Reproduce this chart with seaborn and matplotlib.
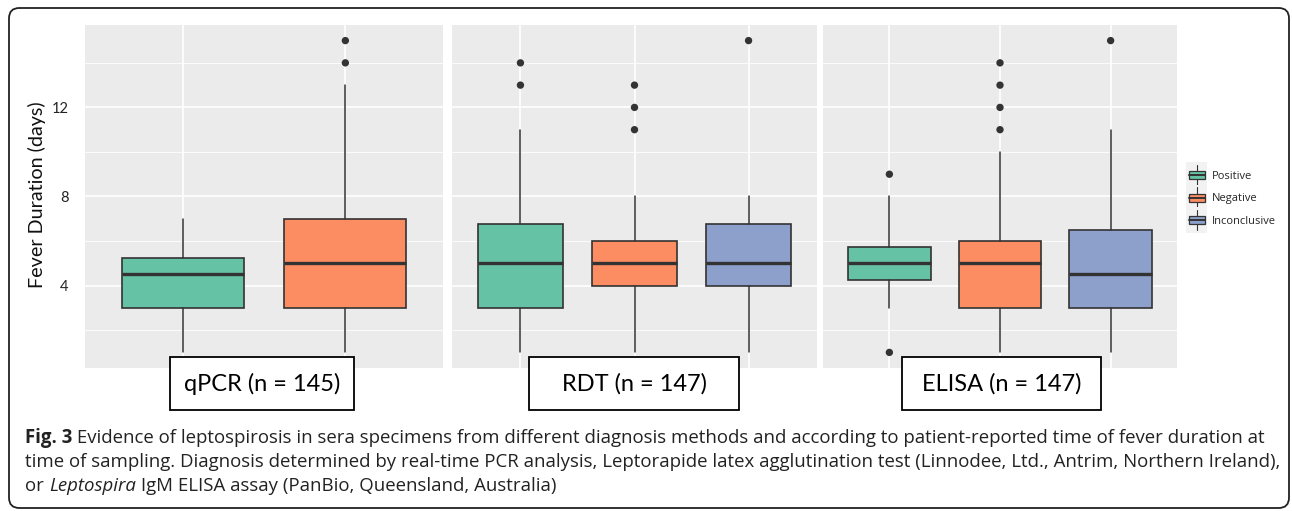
import numpy as np
import pandas as pd
import matplotlib
matplotlib.use("Agg")
import matplotlib.pyplot as plt
import seaborn as sns
from matplotlib.patches import Rectangle, FancyBboxPatch
from matplotlib.lines import Line2D
from matplotlib.legend_handler import HandlerBase

# ---------------- data ----------------
methods = ["qPCR", "RDT", "ELISA"]
method_n = [145, 147, 147]
results = ["Positive", "Negative", "Inconclusive"]

qpcr_groups = ["Positive", "Negative"]
qpcr_whislo = [1, 1]
qpcr_q1 = [3, 3]
qpcr_med = [4.5, 5]
qpcr_q3 = [5.25, 7]
qpcr_whishi = [7, 13]
qpcr_out = [[], [14, 15]]

rdt_groups = ["Positive", "Negative", "Inconclusive"]
rdt_whislo = [1, 1, 1]
rdt_q1 = [3, 4, 4]
rdt_med = [5, 5, 5]
rdt_q3 = [6.75, 6, 6.75]
rdt_whishi = [11, 8, 8]
rdt_out = [[13, 14], [11, 12, 13], [15]]

elisa_groups = ["Positive", "Negative", "Inconclusive"]
elisa_whislo = [3, 1, 1]
elisa_q1 = [4.25, 3, 3]
elisa_med = [5, 5, 4.5]
elisa_q3 = [5.75, 6, 6.5]
elisa_whishi = [8, 10, 11]
elisa_out = [[1, 9], [11, 12, 13, 14], [15]]

y_major = [4, 8, 12]
y_minor = [2, 6, 10, 14]
y_label = "Fever Duration (days)"

caption_bold = "Fig. 3"
caption_l1 = " Evidence of leptospirosis in sera specimens from different diagnosis methods and according to patient-reported time of fever duration at"
caption_l2 = "time of sampling. Diagnosis determined by real-time PCR analysis, Leptorapide latex agglutination test (Linnodee, Ltd., Antrim, Northern Ireland),"
caption_l3a = "or "
caption_l3b = "Leptospira"
caption_l3c = " IgM ELISA assay (PanBio, Queensland, Australia)"

# ---------------- style ----------------
sns.set_theme(style="darkgrid")
plt.rcParams["font.family"] = ["Lato", "DejaVu Sans"]
palette = dict(zip(results, sns.color_palette("Set2", 3)))
EDGE = "#333333"
BG = "#EBEBEB"

W, H = 1292, 511
fig = plt.figure(figsize=(W / 100, H / 100), dpi=100)
fig.patch.set_facecolor("white")

def rect(x0, y0, x1, y1):
    return [x0 / W, 1 - y1 / H, (x1 - x0) / W, (y1 - y0) / H]

panels = [
    (85, 443, qpcr_groups, qpcr_whislo, qpcr_q1, qpcr_med, qpcr_q3, qpcr_whishi, qpcr_out),
    (452, 817, rdt_groups, rdt_whislo, rdt_q1, rdt_med, rdt_q3, rdt_whishi, rdt_out),
    (823, 1177, elisa_groups, elisa_whislo, elisa_q1, elisa_med, elisa_q3, elisa_whishi, elisa_out),
]
label_boxes = [(170, 354), (529, 739), (902, 1101)]
PT, PB = 25, 368

axes = []
for i, (x0, x1, groups, wlo, q1, med, q3, whi, outs) in enumerate(panels):
    ax = fig.add_axes(rect(x0, PT, x1, PB))
    axes.append(ax)
    ax.set_facecolor(BG)
    k = len(groups)
    pos = list(range(k))
    stats = []
    for j in range(k):
        stats.append(dict(med=med[j], q1=q1[j], q3=q3[j], whislo=wlo[j],
                          whishi=whi[j], fliers=[], label=groups[j]))
    bp = ax.bxp(stats, positions=pos, widths=0.75, patch_artist=True,
                showfliers=False, showcaps=False,
                boxprops=dict(edgecolor=EDGE, linewidth=1.2),
                medianprops=dict(color=EDGE, linewidth=2.4, solid_capstyle="butt"),
                whiskerprops=dict(color=EDGE, linewidth=1.1), zorder=3)
    for patch, g in zip(bp["boxes"], groups):
        patch.set_facecolor(palette[g])
    # outliers
    ox, oy = [], []
    for j, o in enumerate(outs):
        for v in o:
            ox.append(j)
            oy.append(v)
    if ox:
        df = pd.DataFrame({"x": ox, "y": oy})
        sns.scatterplot(data=df, x="x", y="y", ax=ax, color=EDGE, s=28,
                        edgecolor="none", zorder=4, legend=False)
    ax.set_xlim(-0.6, k - 0.4)
    ax.set_ylim(0.3, 15.7)
    ax.set_xticks(pos)
    ax.set_xticklabels([])
    ax.set_yticks(y_major)
    ax.set_yticks(y_minor, minor=True)
    ax.grid(True, which="major", color="white", linewidth=1.2, zorder=0)
    ax.grid(True, which="minor", axis="y", color="white", linewidth=0.6, zorder=0)
    ax.set_axisbelow(True)
    for s in ax.spines.values():
        s.set_visible(False)
    ax.tick_params(axis="both", which="both", length=0)
    ax.set_xlabel("")
    ax.set_ylabel("")
    if i == 0:
        ax.set_yticklabels([str(v) for v in y_major], fontsize=10.5, color="#222222")
        ax.tick_params(axis="y", pad=12)
    else:
        ax.set_yticklabels([])

fig.text(37 / W, 1 - 195 / H, y_label, rotation=90, ha="center", va="center",
         fontsize=14.2, color="#111111")

# facet label boxes
for (bx0, bx1), m, n in zip(label_boxes, methods, method_n):
    fig.patches.append(Rectangle((bx0 / W, 1 - 410 / H), (bx1 - bx0) / W, 53 / H,
                                 transform=fig.transFigure, facecolor="white",
                                 edgecolor="black", linewidth=1.3, zorder=10))
    fig.text((bx0 + bx1) / 2 / W, 1 - 384 / H, f"{m} (n = {n})", ha="center",
             va="center", fontsize=17, color="black", zorder=11)

# legend
class BoxHandler(HandlerBase):
    def create_artists(self, legend, orig_handle, xdescent, ydescent, width,
                       height, fontsize, trans):
        c = orig_handle.get_facecolor()
        bw = width * 0.9
        bx = -xdescent + (width - bw) / 2
        bg = Rectangle((-xdescent - 1, -ydescent - 5), width + 2, height + 10,
                       facecolor="#F2F2F2", edgecolor="none", transform=trans)
        r = Rectangle((bx, -ydescent + 1.5), bw, height - 3, facecolor=c,
                      edgecolor=EDGE, linewidth=0.9, transform=trans)
        cx = -xdescent + width / 2
        med = Line2D([bx, bx + bw], [-ydescent + height / 2] * 2, color=EDGE,
                     linewidth=1.4, transform=trans)
        w1 = Line2D([cx, cx], [-ydescent + height - 1.5, -ydescent + height + 3],
                    color=EDGE, linewidth=0.8, transform=trans)
        w2 = Line2D([cx, cx], [-ydescent + 1.5, -ydescent - 3], color=EDGE,
                    linewidth=0.8, transform=trans)
        return [bg, r, med, w1, w2]

handles = [Rectangle((0, 0), 1, 1, facecolor=palette[r]) for r in results]
leg = fig.legend(handles, results, handler_map={Rectangle: BoxHandler()},
                 loc="center left", bbox_to_anchor=(1180 / W, 1 - 198 / H),
                 frameon=False, fontsize=8, handlelength=1.6, handleheight=1.3,
                 handletextpad=0.55, labelspacing=0.85, borderpad=0.2,
                 prop={"family": ["Open Sans", "DejaVu Sans"], "size": 8})

# caption (Open Sans, fitted to the reference's line width)
cap_font = ["Open Sans", "DejaVu Sans"]
CAP_COLOR = "#222222"
fig.canvas.draw()
renderer = fig.canvas.get_renderer()
x0 = 25 / W
y1, y2, y3 = 1 - 438 / H, 1 - 462 / H, 1 - 486 / H

fs = 12.0
tb = fig.text(x0, y1, caption_bold, fontsize=fs, fontweight="bold", va="center",
              ha="left", color=CAP_COLOR, family=cap_font)
bb = tb.get_window_extent(renderer)
t1 = fig.text(bb.x1 / W, y1, caption_l1, fontsize=fs, va="center", ha="left",
              color=CAP_COLOR, family=cap_font)
end = t1.get_window_extent(renderer).x1
fs = fs * (1262 - 25) / (end - 25)
tb.set_fontsize(fs)
bb = tb.get_window_extent(renderer)
t1.set_fontsize(fs)
t1.set_x(bb.x1 / W)

fig.text(x0, y2, caption_l2, fontsize=fs, va="center", ha="left",
         color=CAP_COLOR, family=cap_font)
t = fig.text(x0, y3, caption_l3a, fontsize=fs, va="center", ha="left",
             color=CAP_COLOR, family=cap_font)
bb = t.get_window_extent(renderer)
t = fig.text(bb.x1 / W, y3, caption_l3b, fontsize=fs, style="italic",
             va="center", ha="left", color=CAP_COLOR, family=cap_font)
bb = t.get_window_extent(renderer)
fig.text(bb.x1 / W, y3, caption_l3c, fontsize=fs, va="center", ha="left",
         color=CAP_COLOR, family=cap_font)

# rounded border
fig.patches.append(FancyBboxPatch((9 / W, 1 - 508 / H), (1289 - 9) / W, (508 - 8) / H,
                                  boxstyle="round,pad=0,rounding_size=0.008",
                                  transform=fig.transFigure, facecolor="none",
                                  edgecolor="#222222", linewidth=1.3, zorder=0,
                                  mutation_aspect=W / H))

fig.savefig("out.png", dpi=100)
